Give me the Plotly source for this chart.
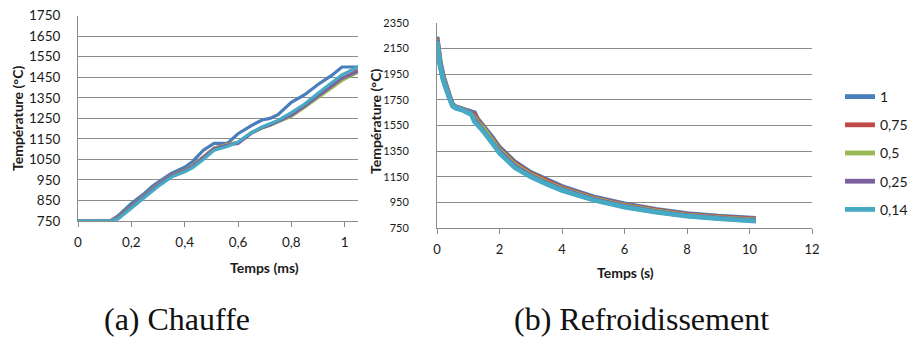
import plotly.graph_objects as go

# ---------------- data ----------------
series_names = ["1", "0,75", "0,5", "0,25", "0,14"]
series_colors = ["#4A7EBB", "#BE4B48", "#98B954", "#7D60A0", "#46AAC5"]

# (a) Chauffe : time in ms
t_heat = [0, 0.12, 0.15, 0.2, 0.25, 0.28, 0.3, 0.35, 0.4, 0.43, 0.47, 0.51,
          0.56, 0.6, 0.65, 0.69, 0.72, 0.75, 0.8, 0.85, 0.9, 0.95, 0.99, 1.05]
heat_1 = [750, 750, 775, 835, 885, 920, 938, 982, 1012, 1040, 1095, 1128,
          1128, 1175, 1215, 1242, 1250, 1268, 1328, 1365, 1415, 1458, 1500, 1500]
heat_075 = [750, 750, 768, 822, 876, 910, 928, 972, 998, 1020, 1062, 1105,
            1125, 1132, 1180, 1205, 1218, 1235, 1265, 1310, 1358, 1402, 1442, 1485]
heat_05 = [750, 750, 766, 820, 874, 908, 926, 970, 996, 1018, 1060, 1103,
           1123, 1130, 1178, 1203, 1216, 1232, 1260, 1304, 1350, 1395, 1435, 1475]
heat_025 = [750, 750, 765, 818, 872, 906, 924, 968, 994, 1016, 1058, 1101,
            1120, 1128, 1178, 1204, 1218, 1236, 1266, 1311, 1360, 1405, 1445, 1480]
heat_014 = [750, 750, 760, 812, 866, 900, 918, 964, 990, 1010, 1050, 1095,
            1113, 1135, 1180, 1208, 1222, 1240, 1278, 1320, 1372, 1420, 1462, 1500]
heat_series = [heat_1, heat_075, heat_05, heat_025, heat_014]

# (b) Refroidissement : time in s
t_cool = [0, 0.05, 0.1, 0.2, 0.3, 0.4, 0.5, 0.6, 0.8, 1.0, 1.1, 1.2, 1.3,
          1.5, 1.75, 2, 2.5, 3, 3.5, 4, 5, 6, 7, 8, 9, 10.2]
cool_1 = [2240, 2140, 2050, 1935, 1850, 1780, 1715, 1695, 1680, 1660, 1650, 1650, 1600,
          1545, 1465, 1380, 1265, 1185, 1125, 1075, 995, 940, 897, 865, 845, 828]
cool_075 = [2230, 2130, 2040, 1926, 1842, 1774, 1711, 1692, 1678, 1655, 1645, 1635, 1588,
            1533, 1452, 1368, 1254, 1176, 1117, 1066, 988, 933, 891, 859, 839, 821]
cool_05 = [2220, 2120, 2030, 1918, 1835, 1769, 1707, 1690, 1676, 1650, 1641, 1610, 1575,
           1522, 1441, 1357, 1243, 1167, 1109, 1058, 981, 926, 885, 853, 833, 815]
cool_025 = [2215, 2112, 2020, 1910, 1828, 1765, 1704, 1688, 1674, 1645, 1638, 1595, 1565,
            1510, 1430, 1346, 1231, 1158, 1102, 1051, 975, 920, 880, 849, 829, 810]
cool_014 = [2205, 2100, 2010, 1900, 1820, 1760, 1700, 1685, 1672, 1640, 1635, 1580, 1555,
            1500, 1420, 1335, 1220, 1150, 1095, 1045, 970, 915, 875, 845, 825, 806]
cool_series = [cool_1, cool_075, cool_05, cool_025, cool_014]

# ticks
heat_xticks = [0, 0.2, 0.4, 0.6, 0.8, 1]
heat_xticktext = ["0", "0,2", "0,4", "0,6", "0,8", "1"]
heat_yticks = [750, 850, 950, 1050, 1150, 1250, 1350, 1450, 1550, 1650, 1750]
cool_xticks = [0, 2, 4, 6, 8, 10, 12]
cool_yticks = [750, 950, 1150, 1350, 1550, 1750, 1950, 2150, 2350]

# ---------------- figure ----------------
W, H = 909, 338
def px_x(p): return p / W
def px_y(p): return 1 - p / H

fig = go.Figure()

for name, col, ys in zip(series_names, series_colors, heat_series):
    fig.add_trace(go.Scatter(x=t_heat, y=ys, mode="lines", name=name,
                             line=dict(color=col, width=3.2), showlegend=False,
                             xaxis="x", yaxis="y"))
for i, (name, col, ys) in enumerate(zip(series_names, series_colors, cool_series)):
    fig.add_trace(go.Scatter(x=t_cool, y=ys, mode="lines", name=name,
                             line=dict(color=col, width=4.8), showlegend=True,
                             legendgroup="g%d" % i,
                             xaxis="x2", yaxis="y2"))

ink = "#1a1a1a"
font_left = dict(family="Lato", size=13.5, color=ink)
font_right_x = dict(family="Lato", size=13, color=ink)
font_right_y = dict(family="Lato", size=11, color=ink)
grid = "#8C8C8C"

fig.update_layout(
    template="none",
    width=W, height=H,
    margin=dict(l=0, r=0, t=0, b=0, pad=0, autoexpand=False),
    paper_bgcolor="white", plot_bgcolor="white",
    font=dict(family="Lato", color=ink),
    xaxis=dict(domain=[px_x(78), px_x(358)], range=[0, 1.05],
               tickvals=heat_xticks, ticktext=heat_xticktext,
               showgrid=False, zeroline=False, showline=True, linecolor=grid,
               linewidth=1, ticks="outside", ticklen=5, tickcolor=grid,
               tickfont=font_left, ticklabelstandoff=4, automargin=False,
               ticklabeloverflow="allow", anchor="y"),
    yaxis=dict(domain=[px_y(221), px_y(15.7)], range=[750, 1750],
               tickvals=heat_yticks, showgrid=True, gridcolor=grid, gridwidth=1,
               zeroline=False, showline=True, linecolor=grid, linewidth=1, ticks="",
               tickfont=font_left, ticklabelstandoff=14, automargin=False,
               ticklabeloverflow="allow", anchor="x"),
    xaxis2=dict(domain=[px_x(437), px_x(812)], range=[0, 12],
                tickvals=cool_xticks,
                showgrid=False, zeroline=False, showline=True, linecolor=grid,
                linewidth=1, ticks="outside", ticklen=5, tickcolor=grid,
                tickfont=font_right_x, ticklabelstandoff=4, automargin=False,
                ticklabeloverflow="allow", anchor="y2"),
    yaxis2=dict(domain=[px_y(228.3), px_y(22.7)], range=[750, 2350],
                tickvals=cool_yticks, showgrid=True, gridcolor=grid, gridwidth=1,
                zeroline=False, showline=True, linecolor=grid, linewidth=1, ticks="",
                tickfont=font_right_y, ticklabelstandoff=25, automargin=False,
                ticklabeloverflow="allow", anchor="x2"),
    legend=dict(x=px_x(840), y=px_y(81), xanchor="left", yanchor="top",
                font=dict(family="Lato", size=14, color=ink),
                tracegroupgap=7, bgcolor="rgba(0,0,0,0)", borderwidth=0),
    showlegend=True,
)

title_font = dict(family="Lato", size=14, color=ink, weight="bold")
ann = [
    dict(text="Température (°C)", x=px_x(17), y=px_y(119), textangle=-90),
    dict(text="Température (°C)", x=px_x(375), y=px_y(122), textangle=-90),
    dict(text="Temps (ms)", x=px_x(264), y=px_y(267)),
    dict(text="Temps (s)", x=px_x(625), y=px_y(272)),
]
for a in ann:
    fig.add_annotation(xref="paper", yref="paper", showarrow=False,
                       font=title_font, xanchor="center", yanchor="middle", **a)

cap_font = dict(family="Liberation Serif", size=32, color="#111")
fig.add_annotation(text="(a) Chauffe", x=px_x(177), y=px_y(319), xref="paper", yref="paper",
                   showarrow=False, font=cap_font, xanchor="center", yanchor="middle")
fig.add_annotation(text="(b) Refroidissement", x=px_x(641), y=px_y(319), xref="paper", yref="paper",
                   showarrow=False, font=cap_font, xanchor="center", yanchor="middle")

# remove the default 8px page margin so the figure fills the window exactly
fig.write_html("out.html", config={"displayModeBar": False},
               post_script="document.body.style.margin='0';")
